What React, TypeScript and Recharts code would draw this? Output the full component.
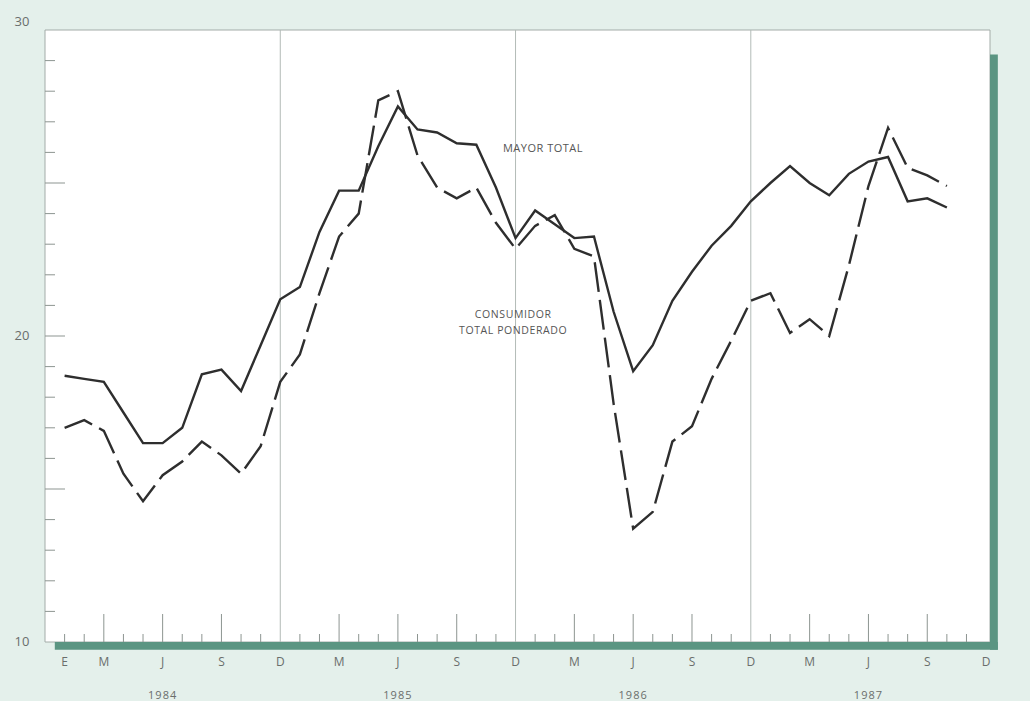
import React from 'react'
import { LineChart, Line, XAxis, YAxis, ReferenceArea, ReferenceLine, ReferenceDot } from 'recharts'

// meses: 0 = enero 1984 ... 45 = octubre 1987
const years = ['1984', '1985', '1986', '1987']
const monthLetters = ['E', 'F', 'M', 'A', 'M', 'J', 'J', 'A', 'S', 'O', 'N', 'D']
const quarterMonths = [2, 5, 8, 11]
const yLabels = [10, 20, 30]

const mayorTotal = [
  18.7, 18.6, 18.5, 17.5, 16.5, 16.5, 17.0, 18.75, 18.9, 18.2, 19.7, 21.2,
  21.6, 23.4, 24.75, 24.75, 26.2, 27.5, 26.75, 26.65, 26.3, 26.25, 24.85, 23.2,
  24.1, 23.65, 23.2, 23.25, 20.8, 18.85, 19.7, 21.15, 22.1, 22.95, 23.6, 24.4,
  25.0, 25.55, 25.0, 24.6, 25.3, 25.7, 25.85, 24.4, 24.5, 24.2,
]

const consumidorTotal = [
  17.0, 17.25, 16.9, 15.5, 14.6, 15.45, 15.9, 16.55, 16.1, 15.5, 16.4, 18.5,
  19.4, 21.4, 23.25, 24.0, 27.7, 28.0, 25.9, 24.85, 24.5, 24.85, 23.7, 22.85,
  23.6, 23.95, 22.85, 22.6, 17.8, 13.7, 14.25, 16.55, 17.05, 18.6, 19.85, 21.15,
  21.4, 20.1, 20.55, 20.0, 22.3, 24.9, 26.8, 25.5, 25.25, 24.9,
]

const data = mayorTotal.map((v, i) => ({ m: i, mayor: v, consumidor: consumidorTotal[i] }))
const monthTicks = Array.from({ length: 48 }, (_, i) => i)
const valueTicks = Array.from({ length: 21 }, (_, i) => 10 + i)

const ink = '#2e2e2e'
const tickColor = '#8d9591'
const textColor = '#6a6e6c'
const green = '#5b9582'

function MonthTick({ x, y, payload }: any) {
  const i = payload.value
  const mo = i % 12
  const quarter = quarterMonths.includes(mo)
  const letter = i === 0 ? monthLetters[0] : quarter ? monthLetters[mo] : ''
  return (
    <g>
      {mo !== 11 && (
        <line x1={x} x2={x} y1={y} y2={y - (quarter ? 28 : 8)} stroke={tickColor} strokeWidth={1} />
      )}
      {letter && (
        <text x={x} y={y + 24} textAnchor="middle" fontSize={12} fill={textColor}>
          {letter}
        </text>
      )}
      {mo === 5 && (
        <text x={x} y={y + 57} textAnchor="middle" fontSize={11} fill={textColor} letterSpacing={1}>
          {years[Math.floor(i / 12)]}
        </text>
      )}
    </g>
  )
}

function LeftTick({ x, y, payload }: any) {
  const v = payload.value
  const long = v % 5 === 0
  return (
    <g>
      {v > 10 && v < 30 && (
        <line x1={x} x2={x + (long ? 20 : 10)} y1={y} y2={y} stroke={tickColor} strokeWidth={1} />
      )}
      {yLabels.includes(v) && (
        <text x={x - 23} y={y + (v === 30 ? -4 : 4)} textAnchor="middle" fontSize={13} fill={textColor}>
          {v}
        </text>
      )}
    </g>
  )
}

function RightTick({ x, y, payload }: any) {
  const v = payload.value
  const long = v % 5 === 0
  return (
    <g>
      {v > 10 && v < 30 && (
        <line x1={x} x2={x - (long ? 14 : 9)} y1={y} y2={y} stroke={tickColor} strokeWidth={1} />
      )}
      {yLabels.includes(v) && (
        <text x={x + 28} y={y + (v === 30 ? 2 : 0)} textAnchor="middle" fontSize={13} fill={textColor}>
          {v}
        </text>
      )}
    </g>
  )
}

export default function App() {
  return (
    <div
      style={{
        position: 'absolute',
        left: 0,
        top: 0,
        width: 1030,
        height: 701,
        overflow: 'hidden',
        background: '#e4f0eb',
        fontFamily: '"Open Sans", "DejaVu Sans", sans-serif',
      }}
    >
      <LineChart width={1030} height={701} data={data} margin={{ top: 30, right: 0, bottom: 1, left: 0 }}>
        <ReferenceArea
          yAxisId="left"
          x1={-1}
          x2={47.2}
          y1={10}
          y2={30}
          fill="#ffffff"
          fillOpacity={1}
          stroke="#a3aca8"
          strokeWidth={1}
          ifOverflow="visible"
        />
        <ReferenceArea
          yAxisId="left"
          x1={47.2}
          x2={47.6}
          y1={9.75}
          y2={29.2}
          fill={green}
          fillOpacity={1}
          ifOverflow="visible"
        />
        <ReferenceArea
          yAxisId="left"
          x1={-0.5}
          x2={47.6}
          y1={9.75}
          y2={10}
          fill={green}
          fillOpacity={1}
          ifOverflow="visible"
        />
        {[11, 23, 35].map((m) => (
          <ReferenceLine key={m} yAxisId="left" x={m} stroke="#b3bbb7" strokeWidth={1} />
        ))}
        <XAxis
          dataKey="m"
          type="number"
          domain={[-1, 47.2]}
          ticks={monthTicks}
          interval={0}
          height={58}
          axisLine={false}
          tickLine={false}
          tickSize={0}
          tickMargin={0}
          tick={<MonthTick />}
        />
        <YAxis
          yAxisId="left"
          orientation="left"
          domain={[10, 30]}
          ticks={valueTicks}
          interval={0}
          width={45}
          axisLine={false}
          tickLine={false}
          tickSize={0}
          tickMargin={0}
          tick={<LeftTick />}
        />
        <YAxis
          yAxisId="right"
          orientation="right"
          domain={[10, 30]}
          ticks={valueTicks}
          interval={0}
          width={40}
          axisLine={false}
          tickLine={false}
          tickSize={0}
          tickMargin={0}
          tick={<RightTick />}
        />
        <Line
          yAxisId="left"
          type="linear"
          dataKey="consumidor"
          stroke={ink}
          strokeWidth={2.4}
          strokeDasharray="30 8"
          dot={false}
          isAnimationActive={false}
        />
        <Line
          yAxisId="left"
          type="linear"
          dataKey="mayor"
          stroke={ink}
          strokeWidth={2.4}
          dot={false}
          isAnimationActive={false}
        />
        <ReferenceDot
          yAxisId="left"
          x={24.4}
          y={26.14}
          r={0}
          label={{ value: 'MAYOR TOTAL', position: 'center', fontSize: 11, fill: '#555', letterSpacing: 0.5 }}
        />
        <ReferenceDot
          yAxisId="left"
          x={22.88}
          y={20.7}
          r={0}
          label={{ value: 'CONSUMIDOR', position: 'center', fontSize: 10.5, fill: '#555', letterSpacing: 0.6 }}
        />
        <ReferenceDot
          yAxisId="left"
          x={22.88}
          y={20.2}
          r={0}
          label={{ value: 'TOTAL PONDERADO', position: 'center', fontSize: 10.5, fill: '#555', letterSpacing: 0.6 }}
        />
      </LineChart>
    </div>
  )
}
